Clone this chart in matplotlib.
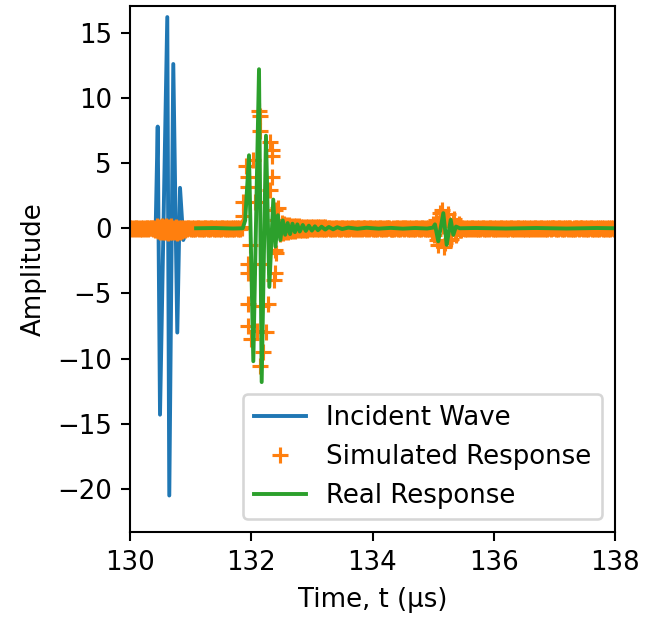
import numpy as np
import matplotlib
matplotlib.use("Agg")
import matplotlib.pyplot as plt

# ---------------- data ----------------
# Incident wave (blue)
inc_t = [130.00, 130.40, 130.425, 130.457, 130.495, 130.615, 130.648, 130.714,
         130.780, 130.825, 130.879, 130.92, 131.00]
inc_a = [0.0, 0.0, 0.4, 7.8, -14.3, 16.2, -20.5, 12.6,
         -8.0, 3.1, -0.9, 0.0, 0.0]

# Simulated response (orange '+'), quiet parts sampled on a regular grid
sim_step = 0.02
simA_start = 130.00
simA_a = [0.03, -0.02, 0.04, -0.05, 0.02, 0.05, -0.03, 0.01, -0.04, 0.03,
          -0.02, 0.05, -0.04, 0.02, 0.03, -0.05, 0.04, -0.01, 0.02, -0.03,
          0.05, -0.1, 0.15, -0.2, 0.1, -0.3, 0.2, -0.25, 0.1, -0.3,
          0.15, -0.35, 0.1, -0.3, 0.2, -0.25, 0.05, -0.3, 0.1, -0.35,
          0.05, -0.3, 0.02, -0.2, 0.04, -0.1, 0.03, -0.05, 0.02, 0.04,
          -0.03, 0.05, -0.02, 0.04, -0.05, 0.03, 0.01, -0.04, 0.05, -0.02,
          0.03, -0.04, 0.02, 0.05, -0.03, 0.04, -0.05, 0.02, 0.03, -0.02,
          0.04, -0.03, 0.05, -0.04, 0.02, -0.02, 0.03, 0.05, -0.05, 0.01,
          -0.03, 0.04, -0.02, 0.03, -0.04, 0.05, -0.03, 0.02, 0.04, -0.05,
          0.03, -0.02, 0.05]

# first echo burst (irregular points)
simB_t = [131.85, 131.87, 131.87, 131.92, 131.95, 131.95, 131.95, 131.95, 131.95, 131.95,
          131.98, 132.00, 132.035, 132.06, 132.09, 132.12, 132.145, 132.145, 132.145, 132.17,
          132.20, 132.20, 132.25, 132.28, 132.31, 132.31, 132.34, 132.34, 132.34, 132.37,
          132.39, 132.39, 132.39, 132.40, 132.42, 132.446]
simB_a = [0.1, 0.95, 2.05, 4.8, 3.97, 3.2, -2.76, -3.45, -5.8, -7.5,
          -1.27, -8.5, 5.25, 2.0, -7.9, 9.0, 8.62, 7.47, -10.56, -6.0,
          -2.76, -9.5, -7.97, -5.8, 6.6, 2.95, 6.0, 5.55, 3.97, -4.0,
          -1.66, -3.45, 1.4, -1.9, 0.6, 1.54]

simC_start = 132.48
simC_a = [-0.45, 0.4, -0.35, 0.3, -0.3, 0.28, -0.25, 0.25, -0.22, 0.2,
          -0.2, 0.18, -0.18, 0.16, -0.15, 0.15, -0.14, 0.12, -0.12, 0.13,
          -0.1, 0.12, -0.1, 0.1, -0.09, 0.1, -0.08, 0.09, -0.08, 0.07,
          -0.07, 0.08, -0.06, 0.07, -0.06, 0.06, -0.05, 0.06, -0.05, 0.05,
          0.03, -0.04, 0.05, -0.02, 0.04, -0.05, 0.02, 0.03, -0.03, 0.05,
          -0.04, 0.02, 0.05, -0.03, 0.04, -0.02, 0.03, -0.05, 0.01, 0.04,
          -0.02, 0.05, -0.04, 0.03, 0.02, -0.05, 0.04, -0.03, 0.05, -0.01,
          0.04, -0.03, 0.02, -0.05, 0.05, 0.01, -0.04, 0.03, -0.02, 0.04,
          -0.05, 0.03, 0.04, -0.02, 0.05, -0.04, 0.02, -0.03, 0.04, 0.02,
          0.05, -0.02, -0.04, 0.03, -0.05, 0.04, 0.02, -0.03, 0.05, -0.04,
          -0.01, 0.03, -0.05, 0.04, 0.02, -0.03, 0.05, -0.02, 0.03, -0.04,
          0.04, -0.05, 0.03, 0.02, -0.04, 0.05, -0.03, 0.01, 0.04, -0.02,
          0.03, -0.04, 0.05, -0.02]

# second echo burst
simD_start, simD_step = 134.96, 0.02
simD_a = [0.1, -0.2, 0.3, -0.5, 0.6, -0.9, -1.3, 0.4, 1.2, 1.4,
          0.2, -1.4, -1.1, 0.6, 1.1, 0.3, -0.9, -0.8, 0.5, 0.7,
          -0.3, -0.5, 0.2, 0.3, -0.1, -0.15, 0.05]

simE_start = 135.50
simE_a = [0.04, -0.03, 0.05, -0.02, 0.03, -0.05, 0.04, 0.02, -0.04, 0.03,
          -0.02, 0.05, -0.03, 0.04, -0.05, 0.02, 0.03, -0.04, 0.05, -0.02,
          0.03, -0.04, 0.02, 0.05, -0.03, 0.04, -0.02, 0.03, -0.05, 0.04,
          -0.03, 0.02, 0.05, -0.04, 0.03, -0.02, 0.04, -0.05, 0.03, 0.02,
          -0.04, 0.05, -0.03, 0.02, -0.04, 0.03, 0.05, -0.02, 0.04, -0.03,
          0.02, -0.05, 0.04, -0.03, 0.05, -0.02, 0.03, -0.04, 0.02, 0.04,
          -0.03, 0.05, -0.02, 0.01, 0.04, -0.05, 0.03, -0.02, 0.05, -0.04,
          0.02, 0.03, -0.05, 0.04, -0.01, 0.05, -0.03, 0.02, -0.04, 0.03,
          0.05, -0.02, 0.04, -0.05, 0.03, 0.01, -0.04, 0.02, 0.05, -0.03,
          -0.02, 0.04, -0.05, 0.03, 0.02, -0.04, 0.05, -0.01, 0.03, -0.03,
          0.04, -0.02, 0.05, -0.04, 0.01, 0.03, -0.05, 0.04, -0.02, 0.02,
          -0.03, 0.05, -0.04, 0.02, 0.04, -0.05, 0.03, -0.02, 0.05, -0.03,
          0.02, -0.04, 0.03, 0.05, -0.02, 0.04]

# Real response (green)
real_t = [131.09, 131.40, 131.70, 131.86, 131.90, 131.963, 132.034, 132.128, 132.172, 132.243,
          132.298, 132.363, 132.40, 132.44, 132.48, 132.52, 132.56, 132.60, 132.64, 132.68,
          132.72, 132.76, 132.80, 132.85, 132.90, 132.95, 133.00, 133.05, 133.10, 133.16,
          133.22, 133.28, 133.35, 133.42, 133.50, 133.60, 133.75, 133.90, 134.10, 134.30,
          134.50, 134.70, 134.90, 135.00, 135.03, 135.085, 135.168, 135.224, 135.29, 135.333,
          135.377, 135.44, 135.70, 136.20, 136.70, 137.20, 137.70, 138.00]
real_a = [0.0, 0.02, -0.02, 0.0, 0.6, 5.6, -10.2, 12.2, -11.8, 7.1,
          -4.5, 2.2, -1.4, 1.0, -0.9, 0.6, -0.5, 0.4, -0.45, 0.35,
          -0.3, 0.3, -0.25, 0.25, -0.2, 0.2, -0.18, 0.15, -0.15, 0.12,
          -0.1, 0.1, -0.08, 0.08, -0.06, 0.05, -0.04, 0.04, -0.03, 0.03,
          -0.03, 0.02, -0.02, 0.05, 0.3, -1.0, 1.16, -1.27, 0.65, -0.5,
          0.13, 0.0, 0.02, -0.02, 0.02, -0.02, 0.02, 0.0]

x_ticks = [130, 132, 134, 136, 138]
y_ticks = [-20, -15, -10, -5, 0, 5, 10, 15]

# ---------------- assemble ----------------
def grid(start, step, vals):
    return start + step * np.arange(len(vals))

sim_t = np.concatenate([grid(simA_start, sim_step, simA_a), simB_t,
                        grid(simC_start, sim_step, simC_a),
                        grid(simD_start, simD_step, simD_a),
                        grid(simE_start, sim_step, simE_a)])
sim_a = np.concatenate([simA_a, simB_a, simC_a, simD_a, simE_a])

DPI = 187
fig = plt.figure(figsize=(658 / DPI, 620 / DPI), dpi=DPI)
ax = fig.add_axes([130 / 658, 1 - 532 / 620, (615 - 130) / 658, (532 - 6) / 620])

ax.plot(inc_t, inc_a, color="C0", label="Incident Wave")
ax.plot(sim_t, sim_a, "+", color="C1", markeredgewidth=1.2,
        label="Simulated Response")
ax.plot(real_t, real_a, color="C2", label="Real Response")

ax.set_xlim(130, 138)
ax.set_ylim(-23.3, 17.05)
ax.set_xticks(x_ticks)
ax.set_yticks(y_ticks)
ax.set_xlabel("Time, t (μs)")
ax.set_ylabel("Amplitude")
ax.legend(loc="lower right")

fig.savefig("out.png", dpi=DPI)
